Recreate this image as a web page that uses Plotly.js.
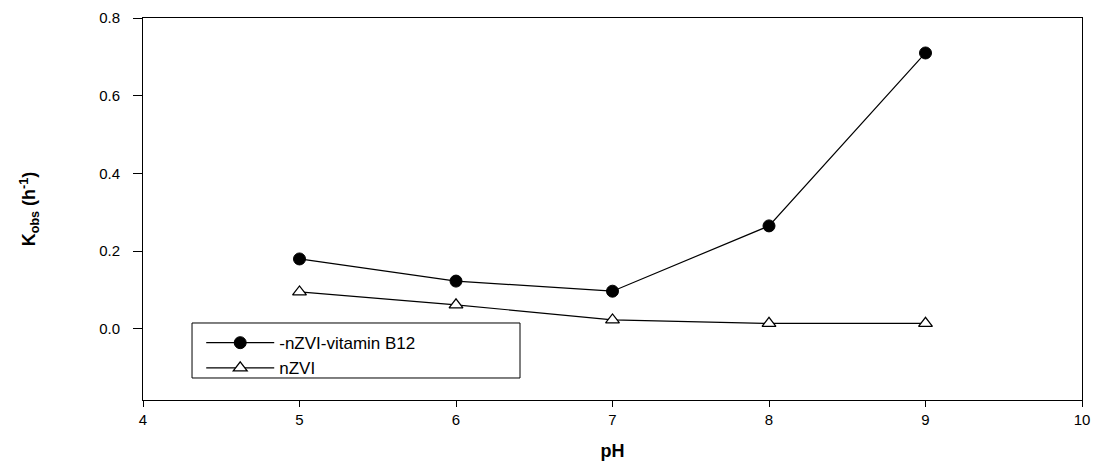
<!DOCTYPE html>
<html>
<head>
<meta charset="utf-8">
<script src="https://cdn.plot.ly/plotly-3.0.1.min.js"></script>
<style>html,body{margin:0;padding:0;background:#fff;}#chart{width:1097px;height:464px;}</style>
</head>
<body>
<div id="chart"></div>
<script>
const pH = [5, 6, 7, 8, 9];
const kobsB12 = [0.180, 0.123, 0.097, 0.265, 0.710];
const kobsNZVI = [0.095, 0.062, 0.023, 0.014, 0.014];
const seriesNames = ['-nZVI-vitamin B12', 'nZVI'];
const xTicks = [4, 5, 6, 7, 8, 9, 10];
const yTicks = [0.0, 0.2, 0.4, 0.6, 0.8];

const traces = [
  {
    x: pH, y: kobsB12, name: seriesNames[0], type: 'scatter', mode: 'lines+markers',
    line: {color: '#000', width: 1.2},
    marker: {symbol: 'circle', size: 12, color: '#000', line: {color: '#000', width: 1}}
  },
  {
    x: pH, y: kobsNZVI, name: seriesNames[1], type: 'scatter', mode: 'lines+markers',
    line: {color: '#000', width: 1.2},
    marker: {symbol: 'triangle-up', size: 12, color: '#fff', line: {color: '#000', width: 1.3}}
  }
];

const font = {family: 'Liberation Sans, Arial, sans-serif', color: '#000', size: 15};

const layout = {
  width: 1097, height: 464,
  margin: {l: 143, r: 15, t: 18, b: 64},
  paper_bgcolor: '#fff', plot_bgcolor: '#fff',
  font: font,
  showlegend: true,
  legend: {
    x: 0.062, y: 0.196, xanchor: 'left', yanchor: 'top',
    borderwidth: 0, bgcolor: 'rgba(0,0,0,0)',
    font: {family: 'Liberation Sans, Arial, sans-serif', size: 17, color: '#000'},
    itemwidth: 68, tracegroupgap: 0
  },
  shapes: [
    {type: 'rect', xref: 'paper', yref: 'paper', x0: 0.0522, x1: 0.4015, y0: 0.0576, y1: 0.2016,
     line: {color: '#000', width: 1}, fillcolor: 'rgba(0,0,0,0)', layer: 'below'}
  ],
  xaxis: {
    range: [4, 10], tickvals: xTicks, ticktext: xTicks.map(String),
    showgrid: false, zeroline: false,
    showline: true, linecolor: '#000', linewidth: 1, mirror: true,
    ticks: 'outside', ticklen: 6, tickcolor: '#000', tickwidth: 1,
    tickfont: {size: 15},
    title: {text: '<b>pH</b>', font: {size: 18}, standoff: 17}
  },
  yaxis: {
    range: [-0.183, 0.8], tickvals: yTicks, ticktext: yTicks.map(v => v.toFixed(1)),
    showgrid: false, zeroline: false,
    showline: true, linecolor: '#000', linewidth: 1, mirror: true,
    ticks: 'outside', ticklen: 9, tickcolor: '#000', tickwidth: 1,
    tickfont: {size: 15}, ticklabelstandoff: 10,
    title: {text: '<b>K<sub>obs</sub> (h<sup>-1</sup>)</b>', font: {size: 18}, standoff: 58}
  }
};

Plotly.newPlot('chart', traces, layout, {displayModeBar: false, staticPlot: true});
</script>
</body>
</html>
